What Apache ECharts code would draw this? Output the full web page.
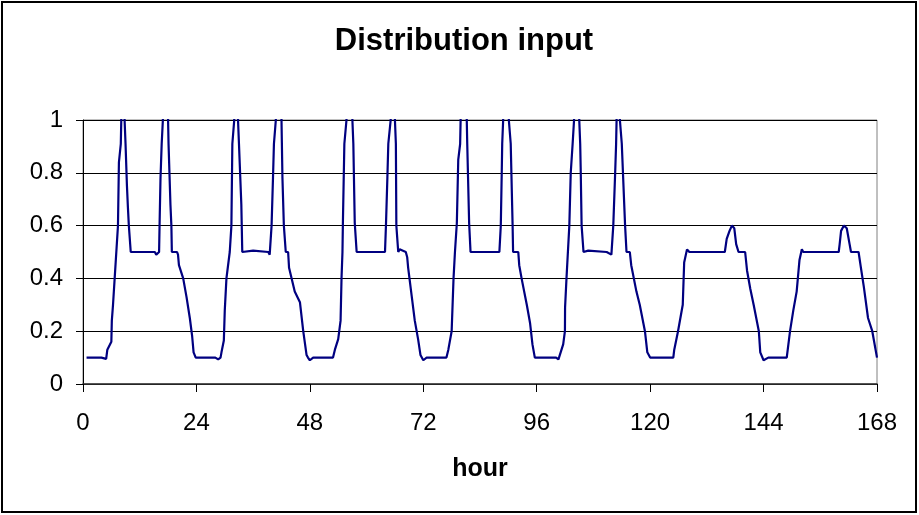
<!DOCTYPE html>
<html>
<head>
<meta charset="utf-8">
<script src="https://cdn.jsdelivr.net/npm/echarts@6/dist/echarts.min.js"></script>
<style>
html,body{margin:0;padding:0;background:#fff;}
#chart{width:919px;height:515px;}
</style>
</head>
<body>
<div id="chart"></div>
<script>
// Tick labels
var xTicks = [0, 24, 48, 72, 96, 120, 144, 168];
var yTicks = [0, 0.2, 0.4, 0.6, 0.8, 1];

// [hour, input] pairs, one array per day (peaks above 1 are clipped by the axis)
var day1 = [[0.75,0.1],[3.9,0.1],[4.2,0.093],[4.9,0.095],[5.15,0.13],[6.0,0.16],[6.1,0.24],[6.35,0.3],[6.7,0.4],[7.05,0.5],[7.4,0.6],[7.6,0.84],[8.0,0.91],[8.1,1.0],[8.45,1.6],[8.8,1.0],[9.0,0.91],[9.3,0.75],[9.5,0.67],[9.7,0.6],[10.1,0.5],[15.2,0.5],[15.5,0.49],[15.8,0.49],[16.1,0.5],[16.2,0.6],[16.4,0.78],[16.65,0.91],[16.9,1.0],[17.45,1.6],[18.0,1.0],[18.1,0.91],[18.5,0.68],[18.7,0.6],[18.8,0.5],[19.9,0.5],[20.1,0.49],[20.3,0.45],[21.2,0.4],[21.9,0.33],[22.6,0.25],[23.1,0.18],[23.4,0.12],[23.85,0.1]];
var day2 = [[24.0,0.1],[28.0,0.1],[28.6,0.093],[29.1,0.1],[29.3,0.12],[29.8,0.165],[30.0,0.28],[30.35,0.4],[31.05,0.5],[31.4,0.6],[31.6,0.91],[32.0,1.0],[32.4,1.6],[32.8,1.0],[33.0,0.91],[33.5,0.68],[33.7,0.5],[36.0,0.505],[39.2,0.5],[39.5,0.49],[39.9,0.6],[40.2,0.78],[40.4,0.91],[40.8,1.0],[41.4,1.6],[42.0,1.0],[42.2,0.78],[42.5,0.6],[42.9,0.5],[43.4,0.5],[43.6,0.44],[44.8,0.35],[45.9,0.31],[46.6,0.2],[47.3,0.11],[47.6,0.1],[48.0,0.09]];
var day3 = [[48.7,0.1],[52.9,0.1],[53.3,0.13],[54.0,0.17],[54.5,0.24],[54.7,0.4],[54.9,0.5],[55.0,0.62],[55.3,0.91],[55.75,1.0],[56.4,1.6],[57.0,1.0],[57.2,0.91],[57.5,0.61],[57.9,0.5],[63.9,0.5],[64.1,0.6],[64.4,0.78],[64.6,0.91],[65.1,1.0],[65.6,1.6],[66.0,1.0],[66.2,0.91],[66.3,0.6],[66.7,0.5],[67.0,0.51],[68.3,0.5],[68.6,0.48],[68.8,0.44],[70.2,0.24],[70.9,0.17],[71.4,0.11],[72.0,0.09]];
var day4 = [[72.7,0.1],[76.9,0.1],[77.3,0.13],[78.0,0.2],[78.4,0.4],[78.7,0.5],[79.1,0.61],[79.4,0.85],[79.8,0.91],[79.9,1.0],[80.5,1.6],[81.2,1.0],[81.3,0.91],[81.7,0.61],[82.0,0.5],[88.1,0.5],[88.4,0.6],[88.6,0.8],[88.7,0.91],[88.9,1.0],[89.5,1.6],[90.1,1.0],[90.5,0.91],[90.9,0.6],[91.0,0.5],[92.1,0.5],[92.3,0.45],[92.8,0.4],[93.9,0.3],[94.6,0.23],[95.1,0.15],[95.6,0.1]];
var day5 = [[96.0,0.1],[100.1,0.1],[100.6,0.093],[100.9,0.1],[101.6,0.15],[101.97,0.2],[102.0,0.29],[102.3,0.4],[102.9,0.6],[103.2,0.8],[103.6,0.91],[103.9,1.0],[104.4,1.6],[105.0,1.0],[105.2,0.91],[105.3,0.82],[105.5,0.6],[105.9,0.5],[106.9,0.505],[110.8,0.5],[111.8,0.49],[112.2,0.6],[112.6,0.8],[112.8,0.91],[112.9,1.0],[113.3,1.6],[113.6,1.0],[114.0,0.91],[114.7,0.6],[115.0,0.5],[115.7,0.5],[116.0,0.45],[117.1,0.35],[117.8,0.3],[118.9,0.2],[119.4,0.12],[120.0,0.1]];
var day6 = [[124.9,0.1],[125.1,0.13],[125.9,0.2],[126.9,0.3],[127.2,0.46],[127.8,0.51],[128.3,0.5],[135.8,0.5],[136.2,0.55],[136.8,0.58],[137.3,0.6],[137.8,0.59],[138.2,0.53],[138.7,0.5],[140.1,0.5],[140.5,0.43],[141.2,0.36],[141.9,0.3],[143.0,0.2],[143.3,0.12],[144.0,0.09]];
var day7 = [[145.0,0.1],[148.9,0.1],[149.6,0.2],[150.3,0.28],[151.0,0.35],[151.4,0.43],[151.6,0.47],[152.1,0.51],[152.4,0.5],[159.9,0.5],[160.1,0.53],[160.4,0.58],[161.0,0.6],[161.6,0.59],[162.2,0.53],[162.5,0.5],[164.1,0.5],[164.6,0.44],[165.2,0.37],[166.1,0.25],[167.0,0.2],[168.0,0.1]];

var weekData = [].concat(day1, day2, day3, day4, day5, day6, day7);

var FONT = '"Liberation Sans", Arial, Helvetica, sans-serif';
var chart = echarts.init(document.getElementById('chart'), null, {renderer: 'canvas'});
chart.setOption({
  animation: false,
  backgroundColor: '#ffffff',
  graphic: [
    {type: 'rect', shape: {x: 2, y: 2, width: 914, height: 510}, style: {fill: 'none', stroke: '#000', lineWidth: 2}, z: 100},
    {type: 'text', x: 464, y: 41, style: {text: 'Distribution input', font: 'bold 31px ' + FONT, fill: '#000', textAlign: 'center', textVerticalAlign: 'middle'}}
  ],
  grid: {left: 83, right: 42, top: 120, bottom: 131, show: true, borderColor: '#808080', borderWidth: 1, backgroundColor: '#fff', containLabel: false},
  xAxis: {
    type: 'value', min: xTicks[0], max: xTicks[xTicks.length - 1], interval: 24,
    name: 'hour', nameLocation: 'middle', nameGap: 73,
    nameTextStyle: {fontFamily: FONT, fontWeight: 'bold', fontSize: 25, color: '#000'},
    axisLine: {show: true, lineStyle: {color: '#333', width: 1.5}},
    axisTick: {show: true, length: 8, lineStyle: {color: '#000'}},
    axisLabel: {margin: 27, fontFamily: FONT, fontSize: 24, color: '#000'},
    splitLine: {show: false}
  },
  yAxis: {
    type: 'value', min: yTicks[0], max: yTicks[yTicks.length - 1], interval: 0.2,
    axisLine: {show: true, lineStyle: {color: '#000', width: 1}},
    axisTick: {show: true, length: 7, lineStyle: {color: '#000'}},
    axisLabel: {margin: 20, fontFamily: FONT, fontSize: 24, color: '#000'},
    splitLine: {show: true, lineStyle: {color: '#000', width: 1}}
  },
  series: [{
    type: 'line', data: weekData, showSymbol: false, clip: true,
    lineStyle: {color: '#000080', width: 2.2}, itemStyle: {color: '#000080'}
  }]
});
</script>
</body>
</html>
